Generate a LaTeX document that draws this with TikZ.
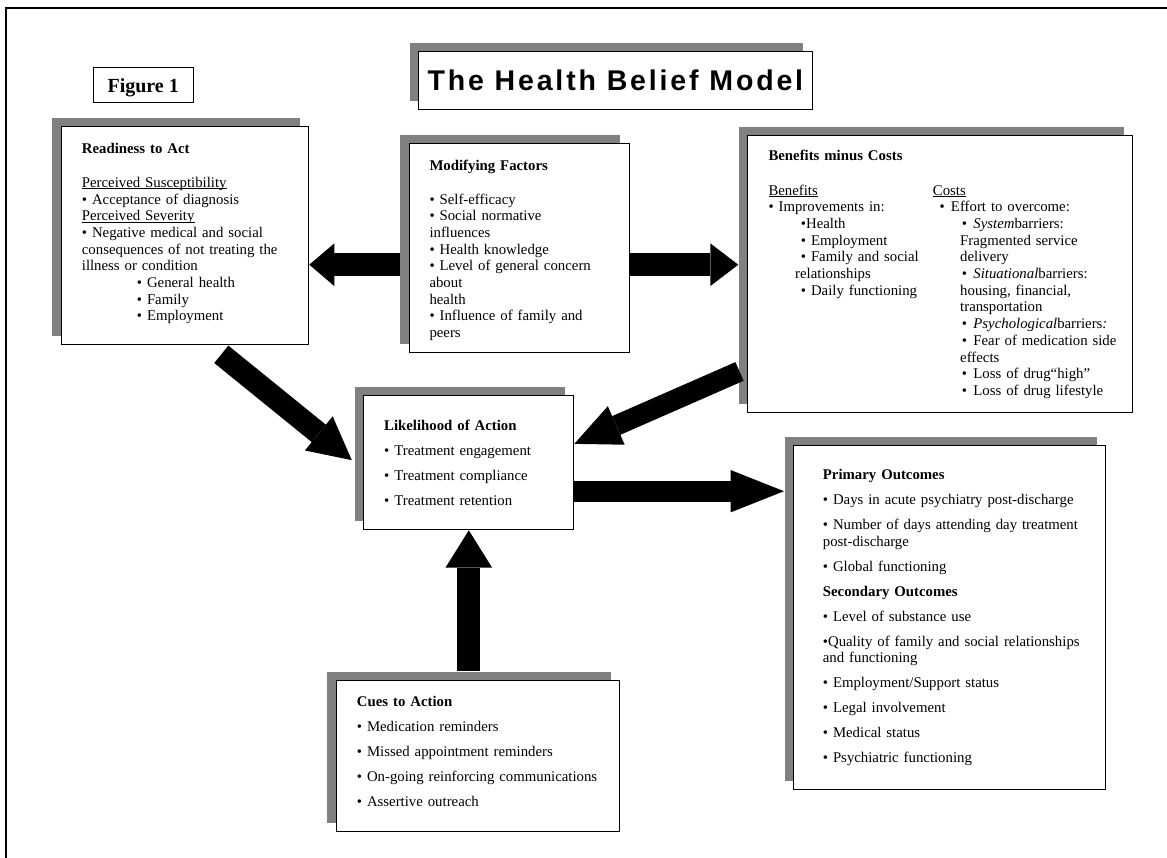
\documentclass[tikz,border=0pt]{standalone}
\usepackage{fontspec}
\setmainfont{Liberation Serif}
\newfontfamily\titlefont[LetterSpace=10]{Liberation Sans}
\usetikzlibrary{arrows.meta,calc,shadows}
\definecolor{shadowgray}{HTML}{808080}
\newcommand\myul[1]{\leavevmode\setbox0=\hbox{#1}\rlap{\rule[-1.8pt]{\wd0}{0.9pt}}\box0}
\newcommand\cb{\makebox[11.5pt][l]{•}}
\begin{document}
\begin{tikzpicture}[x=1pt,y=-1pt,
  box/.style={draw=black,line width=1pt,fill=white,inner sep=0pt,anchor=north west},
  sbox/.style={box,drop shadow={shadow xshift=-9pt,shadow yshift=8.5pt,fill=shadowgray,opacity=1}},
  txt/.style={anchor=base west,inner sep=0pt,align=left,text width=300pt,font=\fontsize{14.8}{16.7}\selectfont},
  arr/.style n args={3}{draw=black,line width=#1,-{Triangle[length=#2,width=#3,line width=0pt]}}]
\useasboundingbox (0,0) rectangle (1167,857);
\fill[white] (0,0) rectangle (1167,857);
% outer frame (cropped)
\draw[line width=2.5pt] (6.2,860) -- (6.2,8) -- (1170,8);
% boxes
\node[box,minimum width=100pt,minimum height=34.7pt,text depth=0pt,
  font=\bfseries\fontsize{20}{24}\selectfont] (fig) at (92.7,67.3) {Figure 1};
\node[sbox,minimum width=393.7pt,minimum height=58.6pt,text depth=0pt,
  font=\titlefont\bfseries\fontsize{28.5}{32}\selectfont] (title) at (418,50.7) {The Health Belief Model};
\node[sbox,minimum width=247.6pt,minimum height=218.3pt] (ready) at (60.7,126) {};
\node[sbox,minimum width=220pt,minimum height=209.6pt] (mod) at (408.7,142.7) {};
\node[sbox,minimum width=385pt,minimum height=276.7pt] (ben) at (747.3,135) {};
\node[sbox,minimum width=210pt,minimum height=134.3pt] (like) at (363.3,395) {};
\node[sbox,minimum width=311.7pt,minimum height=344.3pt] (out) at (793.3,445) {};
\node[sbox,minimum width=283.6pt,minimum height=151pt] (cues) at (335.7,680) {};
% texts
\node[txt] (readyt) at (81.7,153.3) {\textbf{Readiness to Act}\\[17.3pt]
\myul{Perceived Susceptibility}\\
• Acceptance of diagnosis\\
\myul{Perceived Severity}\\
• Negative medical and social\\
consequences of not treating the\\
illness or condition\\
\hspace*{55pt}• General health\\
\hspace*{55pt}• Family\\
\hspace*{55pt}• Employment};
\node[txt] (modt) at (429.3,170) {\textbf{Modifying Factors}\\[17.3pt]
• Self-efficacy\\
• Social normative\\
influences\\
• Health knowledge\\
• Level of general concern\\
about\\
health\\
• Influence of family and\\
peers};
\node[txt] (bent) at (768.3,160) {\textbf{Benefits minus Costs}};
\node[txt] (benb) at (768.3,195) {\myul{Benefits}\\
• Improvements in:\\
\hspace*{32.4pt}•Health\\
\hspace*{32.4pt}• Employment\\
\hspace*{32.4pt}• Family and social\\
\hspace*{26.7pt}relationships\\
\hspace*{32.4pt}• Daily functioning};
\node[txt] (benc) at (932.7,195) {\myul{Costs}\\
\hspace*{6.6pt}\cb Effort to overcome:\\
\hspace*{29pt}\cb\textit{System}barriers:\\
\hspace*{27.3pt}Fragmented service\\
\hspace*{27.3pt}delivery\\
\hspace*{29pt}\cb\textit{Situational}barriers:\\
\hspace*{27.3pt}housing, financial,\\
\hspace*{27.3pt}transportation\\
\hspace*{29pt}\cb\textit{Psychological}barriers\textit{:}\\
\hspace*{29pt}\cb Fear of medication side\\
\hspace*{27.3pt}effects\\
\hspace*{29pt}\cb Loss of drug“high”\\
\hspace*{29pt}\cb Loss of drug lifestyle};
\node[txt] (liket) at (384,430.4) {\textbf{Likelihood of Action}\\[8.3pt]
• Treatment engagement\\[8.3pt]
• Treatment compliance\\[8.3pt]
• Treatment retention};
\node[txt] (cuest) at (356.7,706.7) {\textbf{Cues to Action}\\[8.3pt]
• Medication reminders\\[8.3pt]
• Missed appointment reminders\\[8.3pt]
• On-going reinforcing communications\\[8.3pt]
• Assertive outreach};
\node[txt] (outt) at (822.7,479.3) {\textbf{Primary Outcomes}\\[8.3pt]
• Days in acute psychiatry post-discharge\\[8.3pt]
• Number of days attending day treatment\\
post-discharge\\[8.3pt]
• Global functioning\\[8.3pt]
\textbf{Secondary Outcomes}\\[8.3pt]
• Level of substance use\\[8.3pt]
•Quality of family and social relationships\\
and functioning\\[8.3pt]
• Employment/Support status\\[8.3pt]
• Legal involvement\\[8.3pt]
• Medical status\\[8.3pt]
• Psychiatric functioning};
% arrows
\draw[arr={22.7pt}{25pt}{42.7pt}] ($(mod.west |- 0,264.7)+(-9,0)$) -- (ready.east |- 0,264.7);
\draw[arr={22.7pt}{28pt}{42.7pt}] (mod.east |- 0,264.7) -- ($(ben.west |- 0,264.7)+(-9,0)$);
\draw[arr={22.4pt}{42.5pt}{44pt}] ($(ready.south)+(36.3,9)$) -- ($(like.west)+(-11.5,-2.5)$);
\draw[arr={20.4pt}{45.8pt}{42pt}] ($(ben.west)+(-7.8,97.6)$) -- ($(like.east)+(0,-18.8)$);
\draw[arr={21pt}{53.3pt}{42.3pt}] (like.east |- 0,491.2) -- ($(out.west |- 0,491.2)+(-9.3,0)$);
\draw[arr={23.3pt}{37.4pt}{46.7pt}] ($(like.south |- cues.north)+(0,-9.3)$) -- (like.south);
\end{tikzpicture}
\end{document}
